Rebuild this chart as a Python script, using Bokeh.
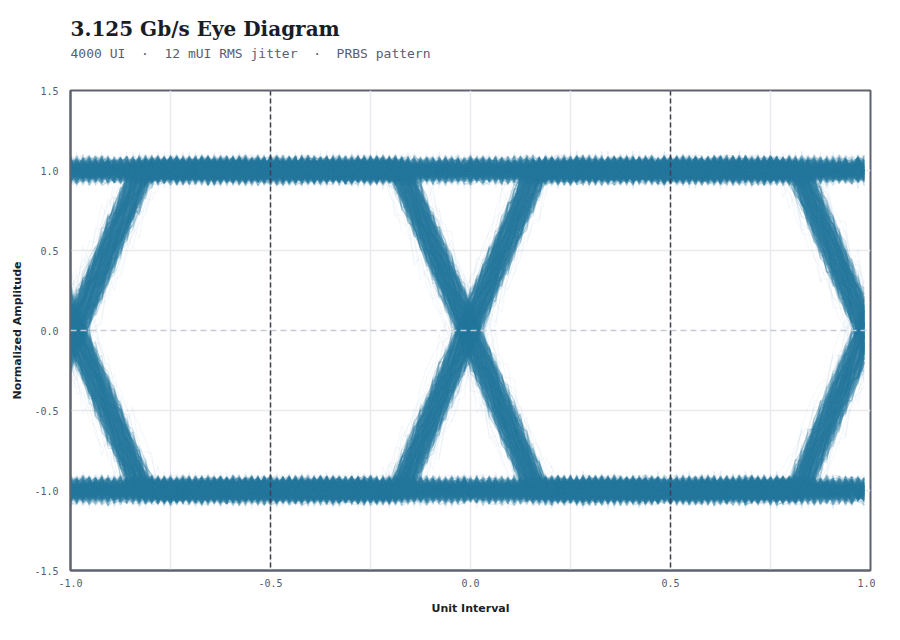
import numpy as np
from bokeh.plotting import figure
from bokeh.models import Range1d, FixedTicker, Span, Title, PrintfTickFormatter
from bokeh.embed import file_html
from bokeh.resources import INLINE

# ---------------- data ----------------
samples_per_ui = 64
window_ui = [-1.0, 1.0]
edge_centers_ui = [-0.99, -0.005, 0.99]
edge_half_width_ui = 0.17
logic_levels = [-1.0, 1.0]
# bits: before first edge | between edges 1-2 | between edges 2-3 | after last edge
bit_patterns = ["0000", "0001", "0010", "0011", "0100", "0101", "0110", "0111",
                "1000", "1001", "1010", "1011", "1100", "1101", "1110", "1111"]
jitter_offsets_ui = [-0.026, -0.018, -0.012, -0.006, 0.0, 0.006, 0.012, 0.018, 0.026]
outlier_jitter_ui = [-0.048, 0.045]
noise_a = [0.0, 0.031, -0.024, 0.012, -0.046, 0.052, -0.008, 0.022,
           -0.035, 0.004, 0.062, -0.016, 0.040, -0.056, 0.017, -0.028,
           0.008, -0.050, 0.028, -0.004, 0.070, -0.020, 0.045, -0.012,
           0.014, -0.066, 0.036, -0.040, 0.002, 0.058, -0.030]
noise_b = [0.0, 0.013, -0.009, 0.021, -0.017, 0.005, -0.024, 0.010,
           -0.003, 0.027, -0.012, 0.017, -0.029, 0.007, -0.020, 0.024, -0.006]
noise_steps = [3, 5, 7, 11, 13, 17, 19, 23, 2, 29]
outlier_noise_scale = 1.7

x_ticks = [-1.0, -0.5, 0.0, 0.5, 1.0]
x_grid_ticks = [-0.75, -0.5, -0.25, 0.0, 0.25, 0.5, 0.75]
y_ticks = [-1.5, -1.0, -0.5, 0.0, 0.5, 1.0, 1.5]
y_grid_ticks = [-1.0, -0.5, 0.5, 1.0]
sampling_marks_ui = [-0.5, 0.5]
threshold_level = 0.0

# ---------------- build traces ----------------
n_samples = int(round((window_ui[1] - window_ui[0]) * samples_per_ui))
t = window_ui[0] + np.arange(n_samples) / samples_per_ui
sample_idx = np.arange(n_samples)


def waveform(pattern, jitter):
    lv = [logic_levels[int(c)] for c in pattern]
    y = np.full_like(t, lv[0])
    for k, tb in enumerate(edge_centers_ui):
        step = (lv[k + 1] - lv[k]) / 2.0
        ramp = np.clip((t - tb - jitter) / edge_half_width_ui, -1.0, 1.0)
        y = y + step * (1.0 + ramp)
    return y


na = np.array(noise_a)
nb = np.array(noise_b)
xs, ys = [], []
for pi, pat in enumerate(bit_patterns):
    for ji, jit in enumerate(jitter_offsets_ui):
        base = waveform(pat, jit)
        for si, st in enumerate(noise_steps):
            ia = (sample_idx * st + pi * 7 + ji * 3 + si * 11) % len(na)
            ib = (sample_idx * (si + 2) + pi * 5 + ji * 2 + si) % len(nb)
            xs.append(t)
            ys.append(np.round(base + na[ia] + nb[ib], 4))

oxs, oys = [], []
for pi, pat in enumerate(bit_patterns):
    for ji, jit in enumerate(outlier_jitter_ui):
        ia = (sample_idx * 7 + ji * 4 + pi) % len(na)
        oxs.append(t)
        oys.append(np.round(waveform(pat, jit) + outlier_noise_scale * na[ia], 4))

# ---------------- figure ----------------
p = figure(frame_width=800, frame_height=480,
           x_range=Range1d(*window_ui), y_range=Range1d(y_ticks[0], y_ticks[-1]),
           output_backend="svg", toolbar_location=None)
p.margin = (13, 0, 0, 8)
p.background_fill_color = "white"
p.border_fill_color = "white"
p.outline_line_color = "#5f636e"
p.outline_line_width = 2

trace_color = "#2c7ea4"
p.multi_line(oxs, oys, line_color=trace_color, line_alpha=0.06, line_width=1)
p.multi_line(xs, ys, line_color=trace_color, line_alpha=0.16, line_width=1.2)

# reference lines
p.add_layout(Span(location=threshold_level, dimension="width", line_color="#c6cad6",
                  line_dash="6 4", line_width=1.5))
for xm in sampling_marks_ui:
    p.add_layout(Span(location=xm, dimension="height", line_color="#3c404a",
                      line_dash="5 3", line_width=1.5))

# axes
for ax in (p.xaxis, p.yaxis):
    ax.major_tick_line_color = None
    ax.minor_tick_line_color = None
    ax.axis_line_color = "#5f636e"
    ax.axis_line_width = 2
    ax.major_label_text_font = "DejaVu Sans Mono"
    ax.major_label_text_font_size = "10px"
    ax.major_label_text_color = "#555b6b"
    ax.axis_label_text_font = "DejaVu Sans"
    ax.axis_label_text_font_style = "bold"
    ax.axis_label_text_font_size = "11px"
    ax.axis_label_text_color = "#1c1f26"
    ax.formatter = PrintfTickFormatter(format="%.1f")

p.xaxis.ticker = FixedTicker(ticks=x_ticks)
p.yaxis.ticker = FixedTicker(ticks=y_ticks)
p.xaxis.axis_label = "Unit Interval"
p.yaxis.axis_label = "Normalized Amplitude"
p.xaxis.major_label_standoff = 2
p.yaxis.major_label_standoff = 6
p.xaxis.axis_label_standoff = 12
p.yaxis.axis_label_standoff = 7

p.xgrid.ticker = FixedTicker(ticks=x_grid_ticks)
p.ygrid.ticker = FixedTicker(ticks=y_grid_ticks)
p.grid.grid_line_color = "#e9e9f0"
p.grid.grid_line_width = 1.5

# titles
p.add_layout(Title(text=" ", text_font_size="14px", standoff=10), "above")
p.add_layout(Title(text="4000 UI \u00a0\u00b7\u00a0 12 mUI RMS jitter \u00a0\u00b7\u00a0 PRBS pattern",
                   text_font="DejaVu Sans Mono", text_font_size="13px",
                   text_font_style="normal", text_color="#5a6070",
                   align="left", standoff=4), "above")
p.add_layout(Title(text="3.125 Gb/s Eye Diagram", text_font="DejaVu Serif",
                   text_font_size="20px", text_font_style="bold", text_color="#1a1d24",
                   align="left", standoff=2), "above")

open("out.html", "w").write(file_html(p, INLINE))
